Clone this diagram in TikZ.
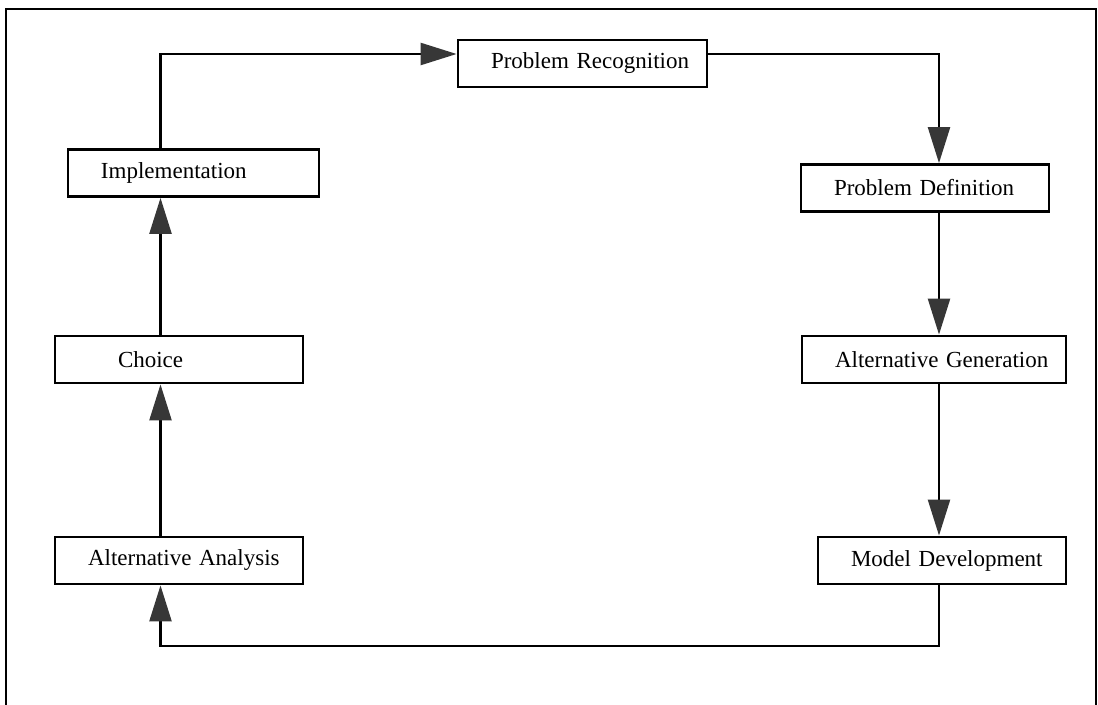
\documentclass[tikz,border=0pt]{standalone}
\usepackage{fontspec}
\setmainfont{Liberation Serif}
\usepackage{tikz}
\usetikzlibrary{arrows.meta}

\definecolor{tipgray}{RGB}{55,55,55}

\begin{document}
\begin{tikzpicture} [ x=0.5pt, y=-0.5pt,
		      stage/.style={draw, line width=1.4pt, shape=rectangle,
			minimum height=23.5pt, text width=124pt, inner xsep=0pt,
			align=left, font=\fontsize{11.5}{13}\selectfont,
			execute at begin node={\hspace*{16.5pt}}},
		      flow/.style={line width=1.2pt,
			-{Triangle[length=18pt,width=11pt,fill=tipgray,color=tipgray]}},
		      frame/.style={line width=1.1pt}
		    ]

  \useasboundingbox (0,0) rectangle (1098,705);
  \draw[frame] (6,720) -- (6,9) -- (1096,9) -- (1096,720);

  % the seven stages
  \node[stage, text width=124.5pt] (pr) at (582.5,63.5) {Problem Recognition};
  \node[stage] (pd) at (925,188) {Problem Definition};
  \node[stage, text width=132pt] (ag) at (934,359.5) {Alternative Generation};
  \node[stage] (md) at (942,560.5) {Model Development};
  \node[stage] (aa) at (179,560.5) {Alternative Analysis};
  \node[stage] (choice) at (179,359.5) {\hspace*{15pt}Choice};
  \node[stage, text width=125.5pt] (impl) at (193.5,173) {Implementation};

  % corners of the loop
  \coordinate (lefttop) at (160.5,54);
  \coordinate (righttop) at (939,54);
  \coordinate (leftbottom) at (160.5,646);

  \draw[flow] (impl.north -| lefttop) -- (lefttop) -- (pr.west |- lefttop);
  \draw[flow] (pr.east |- righttop) -- (righttop) -- (pd.north -| righttop);
  \draw[flow] (pd.south -| righttop) -- (ag.north -| righttop);
  \draw[flow] (ag.south -| righttop) -- (md.north -| righttop);
  \draw[flow] (md.south -| righttop) -- (righttop |- leftbottom) -- (leftbottom) -- (aa.south -| leftbottom);
  \draw[flow] (aa.north -| lefttop) -- (choice.south -| lefttop);
  \draw[flow] (choice.north -| lefttop) -- (impl.south -| lefttop);
\end{tikzpicture}
\end{document}
